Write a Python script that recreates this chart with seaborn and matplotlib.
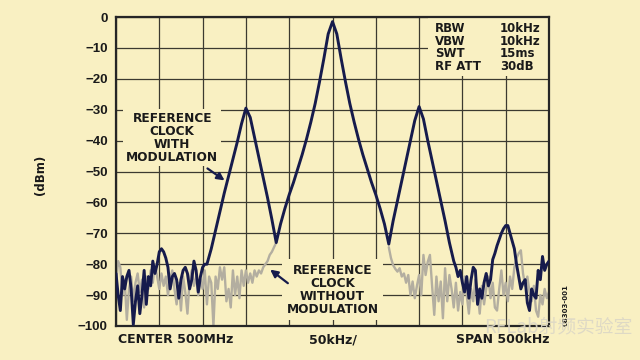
import numpy as np
import pandas as pd
import matplotlib
matplotlib.use("Agg")
import matplotlib.pyplot as plt
import seaborn as sns
from matplotlib.patches import Rectangle

# ---------------- data (offset from 500 MHz centre, kHz ; level dBm) ----------------
dark_left_khz = np.arange(-250, -144.9, 2.5)
dark_left_dbm = [-83, -90, -95, -84, -88, -84, -82, -88, -99.5, -92, -87, -96, -90, -82,
                 -93, -84, -87, -79, -83, -80, -76, -75, -76, -78, -81, -88, -84, -83,
                 -85, -91, -85, -82, -81, -83, -88, -85, -79, -82, -89, -84, -81, -80, -80]
dark_mid_khz = np.arange(-140, 140.1, 5)
dark_mid_dbm = [-75, -69, -63, -57, -51.5, -46, -40.5, -34.5, -29.5, -32.5, -39, -45.5,
                -52, -58.5, -65.5, -73, -67, -62, -57.5, -53.5, -49, -44.5, -39.5, -34,
                -28, -21, -13.5, -5.5, -1.5, -5.5, -13.5, -21, -28, -34, -39.5, -44.5,
                -49, -53.5, -57.5, -62, -67, -73.5, -66, -59.5, -53, -46.5, -40, -33.5,
                -29, -33, -40, -46.5, -53, -59.5, -66, -73, -79]
dark_right_khz = np.arange(142.5, 250.1, 2.5)
dark_right_dbm = [-81, -84, -82, -86, -89, -84, -91, -85, -81, -82, -93, -88, -91, -86,
                  -83, -87, -85, -78.5, -76.5, -74, -72, -70, -68.5, -67.5, -67.5, -70,
                  -72.5, -75, -80, -84, -88, -86, -85, -92.5, -95, -88, -90, -91, -82,
                  -85, -77.5, -82, -80, -79]

gray_left_khz = np.arange(-250, -64.9, 2.5)
gray_left_dbm = [-86, -79, -81, -90, -85, -98, -88, -84, -92, -86, -83, -89, -85, -94,
                 -84, -88, -82, -86, -80, -84, -88, -83, -87, -84, -90, -85, -82, -88,
                 -93, -86, -95, -84, -89, -96, -85, -82, -87, -84, -90, -85,
                 -88, -82, -93, -84, -86, -100, -84, -88, -81, -85, -81, -92, -88, -94,
                 -82, -90, -84, -91, -82, -87, -82, -86, -83, -86, -82, -84, -82, -83,
                 -81, -80, -79, -77, -76, -74.5, -73]
gray_right_khz = np.arange(65, 250.1, 2.5)
gray_right_dbm = [-74.5, -78, -80.3, -81.5, -82.4, -81.3, -84, -83, -86, -83.5, -90, -85.6,
                  -91, -87, -83.5, -90, -77, -83.5, -79.2, -77, -87, -96.4, -84, -92,
                  -85.6, -97.5, -81.3, -92, -83.5,
                  -88, -94, -86, -95, -89, -93, -84, -90, -96, -88, -92, -85, -89, -96,
                  -87, -93, -88, -84, -91, -86, -94, -95, -88, -82, -90, -86, -92, -84,
                  -88, -81, -78, -76.5, -75.5, -83, -87, -84, -89, -92, -87, -95, -97,
                  -90, -93, -88, -91, -89]

y_ticks = [0, -10, -20, -30, -40, -50, -60, -70, -80, -90, -100]
y_tick_labels = ["0", "\u221210", "\u221220", "\u221230", "\u221240", "\u221250",
                 "\u221260", "\u221270", "\u221280", "\u221290", "\u2212100"]
x_grid = [-250, -200, -150, -100, -50, 0, 50, 100, 150, 200, 250]

param_names = ["RBW", "VBW", "SWT", "RF ATT"]
param_values = ["10kHz", "10kHz", "15ms", "30dB"]
param_rows = [-3.7, -7.9, -11.7, -16.0]

# ---------------- styling ----------------
BG = "#F9F0C2"
DARK = "#161B4C"
GRAY = "#B3AEA0"
GRID = "#3C3A30"
TXT = "#1a1a1a"
WIDE = ["DejaVu Sans"]
NARROW = ["Liberation Sans", "DejaVu Sans"]

sns.set_style("white")
plt.rcParams["font.family"] = WIDE
plt.rcParams["font.weight"] = "bold"

dark = pd.DataFrame({
    "khz": np.concatenate([dark_left_khz, dark_mid_khz, dark_right_khz]),
    "dbm": np.concatenate([dark_left_dbm, dark_mid_dbm, dark_right_dbm]),
})
gray_l = pd.DataFrame({"khz": gray_left_khz, "dbm": gray_left_dbm})
gray_r = pd.DataFrame({"khz": gray_right_khz, "dbm": gray_right_dbm})

fig = plt.figure(figsize=(6.4, 3.6), dpi=100, facecolor=BG)
ax = fig.add_axes([116 / 640, 1 - 326 / 360, 433 / 640, 309 / 360])
ax.set_facecolor(BG)

sns.lineplot(data=gray_l, x="khz", y="dbm", ax=ax, color=GRAY, lw=1.7,
             estimator=None, sort=False, legend=False, zorder=2)
sns.lineplot(data=gray_r, x="khz", y="dbm", ax=ax, color=GRAY, lw=1.7,
             estimator=None, sort=False, legend=False, zorder=2)
sns.lineplot(data=dark, x="khz", y="dbm", ax=ax, color=DARK, lw=2.1,
             estimator=None, sort=False, legend=False, zorder=3)

ax.set_xlim(-250, 250)
ax.set_ylim(-100, 0)
ax.set_xticks(x_grid)
ax.set_xticklabels([])
ax.set_yticks(y_ticks)
ax.set_yticklabels(y_tick_labels, fontsize=9.5, fontweight="bold", color=TXT,
                   family=NARROW)
ax.tick_params(axis="both", direction="in", length=3, width=1, color=GRID, pad=6)
ax.set_xlabel("")
ax.set_ylabel("")
ax.grid(True, color=GRID, lw=0.9)
ax.set_axisbelow(True)
for s in ax.spines.values():
    s.set_color("#262626")
    s.set_linewidth(1.6)

# background box behind instrument settings
ax.add_patch(Rectangle((110, -19), 140, 19, facecolor=BG, edgecolor="none", zorder=1))
for name, val, yy in zip(param_names, param_values, param_rows):
    ax.text(118.5, yy, name, fontsize=8.5, fontweight="bold", color=TXT,
            va="center", ha="left", zorder=4)
    ax.text(193.5, yy, val, fontsize=8.5, fontweight="bold", color=TXT,
            va="center", ha="left", zorder=4)

# annotations
ax.text(-185, -39, "REFERENCE\nCLOCK\nWITH\nMODULATION", fontsize=8.7, fontweight="bold",
        color=TXT, ha="center", va="center", multialignment="center",
        linespacing=1.0, zorder=1.5,
        bbox=dict(facecolor=BG, edgecolor="none", pad=2))
ax.annotate("", xy=(-122, -53.4), xytext=(-147, -48.5),
            arrowprops=dict(arrowstyle="-|>", color=DARK, lw=1.6, mutation_scale=11),
            zorder=4)

ax.text(0, -88.2, "REFERENCE\nCLOCK\nWITHOUT\nMODULATION", fontsize=8.7, fontweight="bold",
        color=TXT, ha="center", va="center", multialignment="center",
        linespacing=1.0, zorder=1.5,
        bbox=dict(facecolor=BG, edgecolor="none", pad=3))
ax.annotate("", xy=(-74.5, -81.2), xytext=(-49, -86.7),
            arrowprops=dict(arrowstyle="-|>", color=DARK, lw=1.6, mutation_scale=11),
            zorder=4)

# bottom labels
ax.text(0.005, -0.045, "CENTER 500MHz", transform=ax.transAxes, fontsize=9,
        fontweight="bold", color=TXT, ha="left", va="center")
ax.text(0.5, -0.045, "50kHz/", transform=ax.transAxes, fontsize=9,
        fontweight="bold", color=TXT, ha="center", va="center")
ax.text(1.0, -0.045, "SPAN 500kHz", transform=ax.transAxes, fontsize=9,
        fontweight="bold", color=TXT, ha="right", va="center")

fig.text(40 / 640, 1 - 175 / 360, "(dBm)", rotation=90, fontsize=8.5,
         fontweight="bold", color=TXT, ha="center", va="center")
fig.text(566 / 640, 1 - 305 / 360, "08303-001", rotation=90, fontsize=5,
         color=TXT, ha="center", va="center")

# watermark
fig.text(484 / 640, 1 - 327 / 360, "RFLab射频实验室", fontsize=13.5,
         family=["Noto Sans CJK SC", "DejaVu Sans"], fontweight="normal",
         color="#DCD7C6", alpha=0.9, ha="left", va="center")

fig.savefig("out.png", dpi=100, facecolor=BG)
